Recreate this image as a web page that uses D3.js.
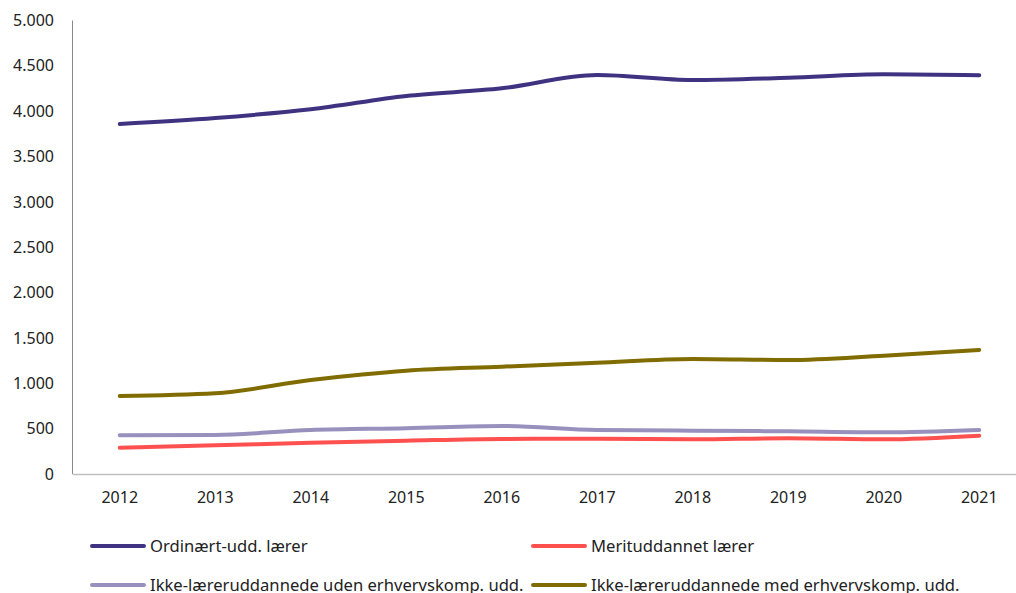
<!DOCTYPE html>
<html><head><meta charset="utf-8">
<script src="https://cdn.jsdelivr.net/npm/d3@7"></script>
<style>body{margin:0;background:#fff;}svg{display:block;font-family:"Noto Sans",sans-serif;}</style>
</head><body>
<script>
const years = ["2012","2013","2014","2015","2016","2017","2018","2019","2020","2021"];
const ordinaert = [3859,3925,4021,4168,4252,4399,4344,4369,4407,4396];
const merit = [290,316,345,367,386,389,382,393,382,422];
const udenErhverv = [426,430,485,504,529,485,478,470,459,485];
const medErhverv = [860,890,1036,1139,1183,1227,1268,1257,1305,1367];
const yTicks = [0,500,1000,1500,2000,2500,3000,3500,4000,4500,5000];
const seriesNames = ["Ordinært-udd. lærer","Merituddannet lærer","Ikke-læreruddannede uden erhvervskomp. udd.","Ikke-læreruddannede med erhvervskomp. udd."];
const seriesColors = ["#3f3381","#ff5050","#9890bd","#806c00"];
const seriesValues = [ordinaert, merit, udenErhverv, medErhverv];

const W=1016,H=593;
const svg=d3.select("body").append("svg").attr("width",W).attr("height",H);
const x=d3.scaleBand().domain(years).range([72,1027]);
const y=d3.scaleLinear().domain([0,5000]).range([474,20.5]);

// y axis
const ya=svg.append("g").attr("transform","translate(72,0)").call(d3.axisLeft(y).tickValues(yTicks).tickSize(0).tickPadding(18).tickFormat(d=>d3.format(",")(d).replace(/,/g,".")));
ya.select(".domain").attr("stroke","#898989").attr("d","M0.5,20.5V474");
ya.selectAll("text").attr("font-size",16).attr("fill","#222").attr("font-family","Noto Sans");

const xa=svg.append("g").attr("transform","translate(0,474)").call(d3.axisBottom(x).tickSize(0).tickPadding(18));
xa.select(".domain").attr("stroke","#bfbfbf").attr("stroke-width",1.5);
xa.selectAll("text").attr("font-size",16).attr("fill","#222").attr("font-family","Noto Sans");

const line=d3.line().x((d,i)=>x(years[i])+x.bandwidth()/2).y(d=>y(d)).curve(d3.curveMonotoneX);
const order=[0,3,2,1];
order.forEach(k=>{
  svg.append("path").datum(seriesValues[k]).attr("d",line).attr("fill","none")
    .attr("stroke",seriesColors[k]).attr("stroke-width",4).attr("stroke-linecap","round").attr("stroke-linejoin","round");
});

// legend
const legPos=[[92,546],[533,546],[92,585],[533,585]];
seriesNames.forEach((n,i)=>{
  const g=svg.append("g").attr("transform",`translate(${legPos[i][0]},${legPos[i][1]})`);
  g.append("line").attr("x1",0).attr("x2",52).attr("y1",0).attr("y2",0).attr("stroke",seriesColors[i]).attr("stroke-width",4).attr("stroke-linecap","round");
  g.append("text").attr("x",58).attr("y",6).attr("font-size",16.6).attr("fill","#222").text(n);
});
</script>
</body></html>
